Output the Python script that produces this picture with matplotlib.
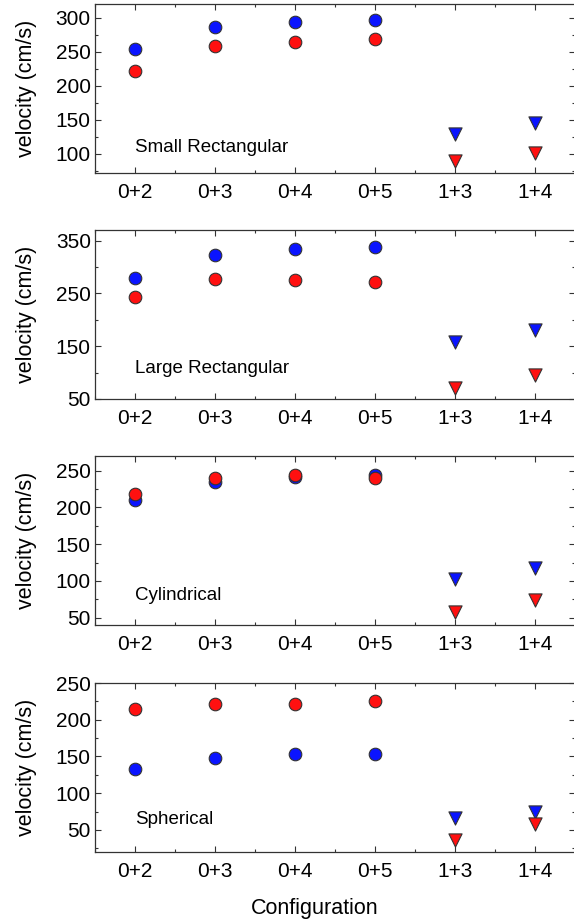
import numpy as np
import matplotlib.pyplot as plt
from matplotlib.ticker import MultipleLocator, FixedLocator

plt.rcParams['font.family'] = ['Liberation Sans', 'DejaVu Sans']

configs = ["0+2", "0+3", "0+4", "0+5", "1+3", "1+4"]
shapes = ["Small Rectangular", "Large Rectangular", "Cylindrical", "Spherical"]

# circles for 0+n configurations, triangles for 1+n
blue_circ = [[254, 286, 294, 296], [280, 323, 334, 338], [210, 235, 241, 244], [133, 148, 153, 154]]
red_circ = [[222, 259, 264, 268], [243, 278, 276, 272], [218, 240, 244, 240], [215, 222, 222, 226]]
blue_tri = [[129, 146], [158, 181], [103, 118], [66, 75]]
red_tri = [[89, 101], [70, 96], [58, 74], [36, 58]]

ylims = [(72, 320), (50, 370), (40, 270), (20, 250)]
yticks = [[100, 150, 200, 250, 300], [50, 150, 250, 350], [50, 100, 150, 200, 250], [50, 100, 150, 200, 250]]
label_y = [110, 107, 80, 64]

W, H = 574, 922
fig = plt.figure(figsize=(W / 100, H / 100), dpi=100)
tops = [4, 230, 456, 683]
ax_h = 169
edge = '#333333'

for i in range(4):
    ax = fig.add_axes([95 / W, 1 - (tops[i] + ax_h) / H, 480 / W, ax_h / H])
    xc = np.arange(4)
    xt = np.arange(4, 6)
    ax.scatter(xc, blue_circ[i], s=82, marker='o', color='#0a14ff', edgecolors=edge, linewidths=0.8, zorder=3)
    ax.scatter(xc, red_circ[i], s=82, marker='o', color='#ff1010', edgecolors=edge, linewidths=0.8, zorder=3)
    ax.scatter(xt, blue_tri[i], s=90, marker='v', color='#0a14ff', edgecolors=edge, linewidths=0.8, zorder=3)
    ax.scatter(xt, red_tri[i], s=90, marker='v', color='#ff1010', edgecolors=edge, linewidths=0.8, zorder=3)

    ax.set_xlim(-0.5, 5.5)
    ax.set_ylim(*ylims[i])
    ax.set_xticks(range(len(configs)))
    ax.set_xticklabels(configs)
    ax.xaxis.set_minor_locator(MultipleLocator(0.5))
    step = yticks[i][1] - yticks[i][0]
    ax.yaxis.set_major_locator(FixedLocator(yticks[i]))
    ax.yaxis.set_minor_locator(FixedLocator(np.arange(yticks[i][0] - step, yticks[i][-1] + step, step / 2)))
    ax.tick_params(which='both', direction='in', top=True, right=True, labelsize=15, color=edge)
    ax.tick_params(which='major', length=4, width=0.8)
    ax.tick_params(which='minor', length=2.2, width=0.8)
    ax.tick_params(axis='x', pad=7)
    ax.tick_params(axis='y', pad=3)
    for sp in ax.spines.values():
        sp.set_color(edge)
        sp.set_linewidth(0.9)

    ax.set_ylabel("velocity (cm/s)", fontsize=15.5)
    ax.yaxis.set_label_coords(-0.121, 0.5)
    ax.text(0, label_y[i], shapes[i], fontsize=13.5, va='center', ha='left')

fig.text(315 / W, 1 - 908 / H, "Configuration", fontsize=15.5, ha='center', va='center')

fig.savefig("out.png", dpi=100)
